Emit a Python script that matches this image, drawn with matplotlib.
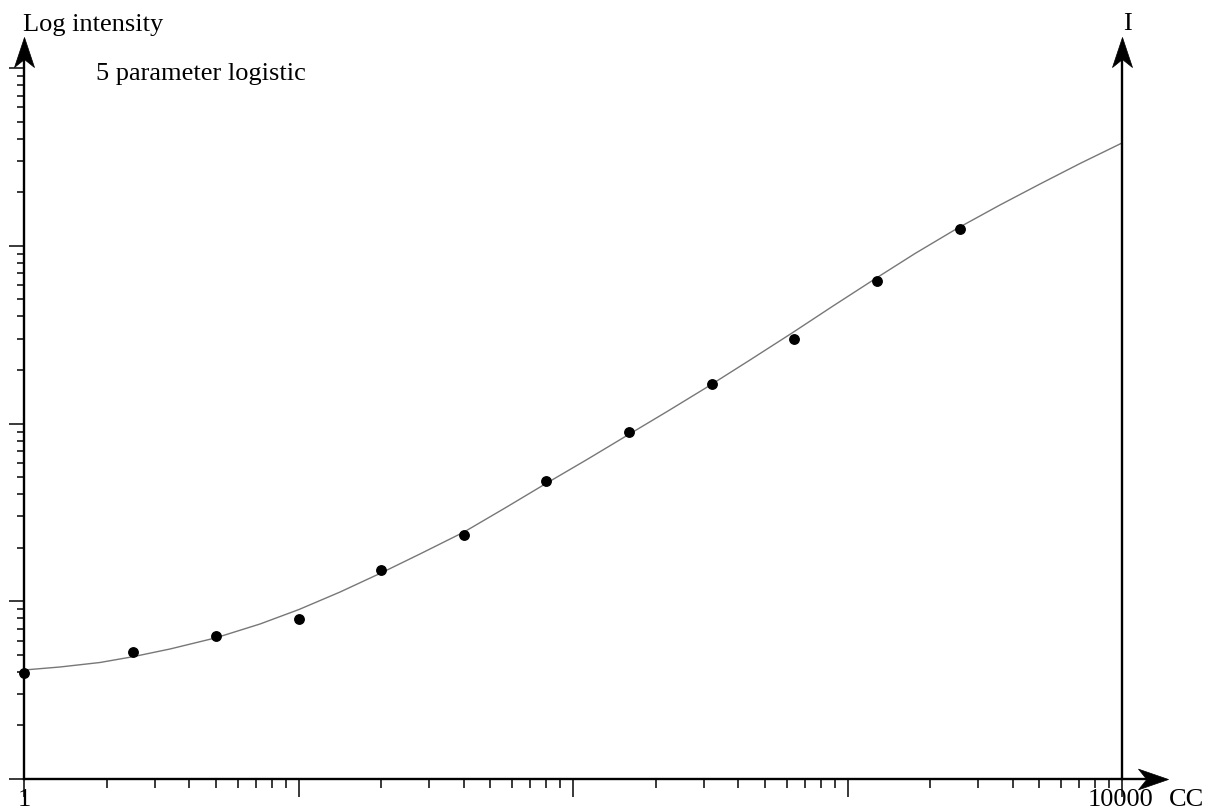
import numpy as np
import matplotlib
matplotlib.use("Agg")
import matplotlib.pyplot as plt
from matplotlib.path import Path
from matplotlib.ticker import LogLocator, NullFormatter

# ---- data ----
conc = [1, 2.5, 5, 10, 20, 40, 80, 160, 320, 640, 1280, 2560]
intensity = [3.95, 5.18, 6.37, 7.95, 15.0, 23.6, 47.5, 89.6, 167, 299, 634, 1242]

# fitted 5-parameter logistic curve
curve_x = [1, 1.352, 1.891, 2.496, 3.403, 5.005, 7.240, 10.04, 14.17, 19.98,
           27.71, 40.09, 56.54, 79.73, 112.5, 157.3, 221.9, 312.9, 441.4, 627.9,
           885.6, 1249, 1762, 2506, 3594, 5026, 7031, 10000]
curve_y = [4.104, 4.267, 4.523, 4.876, 5.387, 6.229, 7.447, 8.986, 11.27, 14.42,
           18.45, 24.52, 33.46, 45.96, 62.73, 85.59, 117.6, 162.6, 227.7, 322.9,
           458.1, 645.7, 904.4, 1250, 1696, 2225, 2902, 3785]

title_text = "5 parameter logistic"
y_label = "Log intensity"
right_label = "I"
x_label = "CC"
x_tick_labels = ["1", "10000"]

W, H = 1218, 809
fig = plt.figure(figsize=(W / 100, H / 100), dpi=100)
ax_left, ax_right, ax_bottom, ax_top = 24, 1122, 779, 68
ax = fig.add_axes([ax_left / W, (H - ax_bottom) / H,
                   (ax_right - ax_left) / W, (ax_bottom - ax_top) / H])
ax.set_xscale("log")
ax.set_yscale("log")
ax.set_xlim(1, 10000)
ax.set_ylim(1, 10000)

for s in ax.spines.values():
    s.set_visible(False)

ax.xaxis.set_major_locator(LogLocator(base=10, numticks=20))
ax.xaxis.set_minor_locator(LogLocator(base=10, subs=np.arange(2, 10), numticks=20))
ax.yaxis.set_major_locator(LogLocator(base=10, numticks=20))
ax.yaxis.set_minor_locator(LogLocator(base=10, subs=np.arange(2, 10), numticks=20))
for axis in (ax.xaxis, ax.yaxis):
    axis.set_major_formatter(NullFormatter())
    axis.set_minor_formatter(NullFormatter())
tick_color = "#2a2a2a"
ax.tick_params(axis="x", which="major", direction="out", length=13, width=1.3, color=tick_color)
ax.tick_params(axis="x", which="minor", direction="out", length=6.5, width=1.3, color=tick_color)
ax.tick_params(axis="y", which="major", direction="out", length=10.8, width=1.3, color=tick_color)
ax.tick_params(axis="y", which="minor", direction="out", length=5, width=1.3, color=tick_color)
ax.tick_params(top=False, right=False)

# axes lines with arrows
ytip = 1 + (ax_top - 37) / (ax_bottom - ax_top)
xtip = 1 + (1168 - ax_right) / (ax_right - ax_left)
lw_axis = 1.7
ax.plot([0, 0], [0, ytip - 0.02], transform=ax.transAxes, color="black", lw=lw_axis, clip_on=False, zorder=3)
ax.plot([1, 1], [0, ytip - 0.02], transform=ax.transAxes, color="black", lw=lw_axis, clip_on=False, zorder=3)
ax.plot([0, xtip - 0.015], [0, 0], transform=ax.transAxes, color="black", lw=lw_axis, clip_on=False, zorder=3)

up_arrow = Path([(0, 0), (-10, -30), (0, -22), (10, -30), (0, 0)],
                [Path.MOVETO, Path.LINETO, Path.LINETO, Path.LINETO, Path.CLOSEPOLY])
right_arrow = Path([(0, 0), (-29, 10), (-21, 0), (-29, -10), (0, 0)],
                   [Path.MOVETO, Path.LINETO, Path.LINETO, Path.LINETO, Path.CLOSEPOLY])
ms = 2 * 30 * 72 / 100
for xx, yy in [(0, ytip), (1, ytip)]:
    ax.plot([xx], [yy], transform=ax.transAxes, marker=up_arrow, ms=ms,
            color="black", mew=0.5, clip_on=False, zorder=4)
ax.plot([xtip], [0], transform=ax.transAxes, marker=right_arrow, ms=ms,
        color="black", mew=0.5, clip_on=False, zorder=4)

# curve and points
ax.plot(curve_x, curve_y, color="#777777", lw=1.0, zorder=2, clip_on=False,
        solid_joinstyle="round")
ax.plot(conc, intensity, "o", color="black", ms=6.8, zorder=5, clip_on=False)

# texts
serif = "Liberation Serif"
fs = 19
def px(x, y):
    return x / W, (H - y) / H

fig.text(*px(23, 31), y_label, fontsize=fs, family=serif, ha="left", va="baseline")
fig.text(*px(96, 80), title_text, fontsize=fs, family=serif, ha="left", va="baseline")
fig.text(*px(1127, 30), right_label, fontsize=fs, family=serif, ha="center", va="baseline")
fig.text(*px(24, 806), x_tick_labels[0], fontsize=fs, family=serif, ha="center", va="baseline")
fig.text(*px(1121, 806), x_tick_labels[1], fontsize=fs, family=serif, ha="center", va="baseline")
fig.text(*px(1169, 806), x_label, fontsize=fs, family=serif, ha="left", va="baseline")

fig.savefig("out.png", dpi=100, facecolor="white")
